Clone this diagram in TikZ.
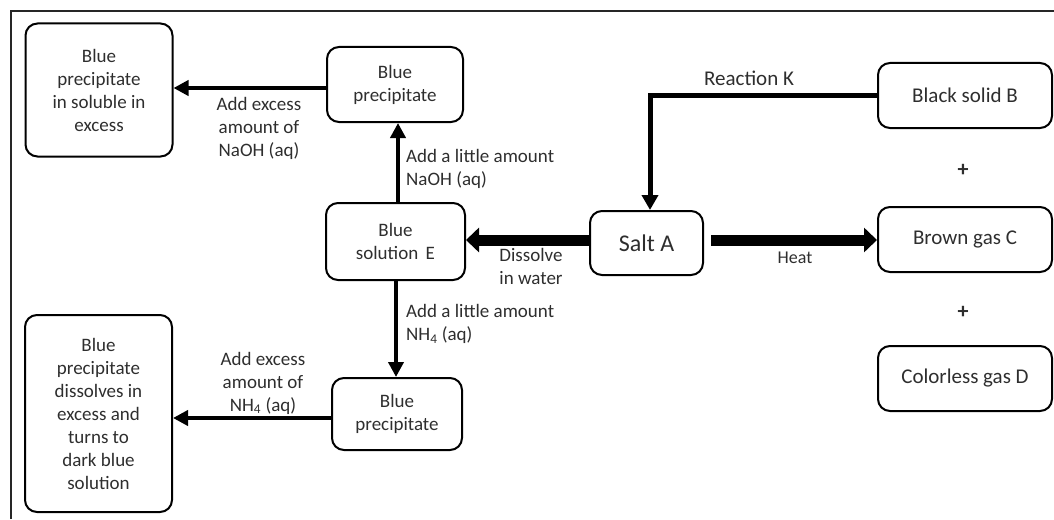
\documentclass[tikz,border=0pt]{standalone}
\usepackage{fontspec}
\setmainfont{Carlito}
\usetikzlibrary{arrows.meta,calc}
\definecolor{txt}{gray}{0.18}
\begin{document}
\begin{tikzpicture}[x=1pt,y=-1pt,
  box/.style={draw=black,line width=2pt,rounded corners=12pt,align=center,inner sep=2pt,
    font=\fontsize{19}{23}\selectfont,text=txt},
  big/.style={font=\fontsize{21}{24}\selectfont},
  lbl/.style={font=\fontsize{19}{23}\selectfont,text=txt,inner sep=0pt},
  thin/.style={line width=4pt,-{Triangle[length=15pt,width=15pt]}},
  fat/.style={line width=11pt,-{Triangle[length=13pt,width=24pt]}}
]
\useasboundingbox (0,0) rectangle (1054,519);
\draw[line width=2pt,black!85] (11,519) -- (11,11) -- (1056,11);
% boxes
\node[box,minimum width=147pt,minimum height=133pt] (ins) at (99,90) {Blue\\precipitate\\in soluble in\\excess};
\node[box,minimum width=136pt,minimum height=75pt] (bp1) at (395,84.5) {Blue\\precipitate};
\node[box,minimum width=139pt,minimum height=77pt] (E) at (395.5,241.5) {Blue\\solution\, E};
\node[box,minimum width=113pt,minimum height=64pt,font=\fontsize{24}{26}\selectfont] (A) at (646.5,243) {Salt A};
\node[box,big,minimum width=174pt,minimum height=65pt] (B) at (965,95.5) {Black solid B};
\node[box,big,minimum width=174pt,minimum height=65pt] (C) at (965,239.5) {Brown gas C};
\node[box,big,minimum width=174pt,minimum height=65pt] (D) at (965,378.5) {Colorless gas D};
\node[box,minimum width=130pt,minimum height=72pt] (bp2) at (397,414) {Blue\\precipitate};
\node[box,minimum width=147pt,minimum height=197pt] (dis) at (98.5,413.5) {Blue\\precipitate\\dissolves in\\excess and\\turns to\\dark blue\\solution};
% plus signs
\node[lbl,font=\fontsize{22}{22}\selectfont\bfseries] (p1) at (963,170) {+};
\node[lbl,font=\fontsize{22}{22}\selectfont\bfseries] (p2) at (963,312) {+};
% connectors
\draw[thin] (bp1.west |- 0,88) -- (ins.east |- 0,88);
\draw[thin] (E.north -| 398,0) -- (bp1.south -| 398,0);
\draw[fat] (A.west |- 0,240) -- (E.east |- 0,240);
\draw[fat,shorten <=7pt] (A.east |- 0,240) -- (C.west |- 0,240);
\coordinate (k) at (650,95);
\draw[line width=5pt,-{Triangle[length=15pt,width=16pt]}] (B.west |- k) -- (k) -- (k |- A.north);
\draw[thin] (E.south -| 396,0) -- (bp2.north -| 396,0);
\draw[thin] (bp2.west |- 0,418) -- (dis.east |- 0,418);
% labels
\node[lbl,align=center] (l1) at (259,128) {Add excess\\amount of\\NaOH (aq)};
\node[lbl,align=left,anchor=west] (l2) at (406,169) {Add a little amount\\NaOH (aq)};
\node[lbl,align=center] (l3) at (531,266) {Dissolve\\in water};
\node[lbl,font=\fontsize{18}{20}\selectfont] (l4) at (795,258) {Heat};
\node[lbl,big] (l5) at (749,78) {Reaction K};
\node[lbl,align=left,anchor=west] (l6) at (406,324) {Add a little amount\\NH\textsubscript{4} (aq)};
\node[lbl,align=center] (l7) at (263,383) {Add excess\\amount of\\NH\textsubscript{4} (aq)};
\end{tikzpicture}
\end{document}
